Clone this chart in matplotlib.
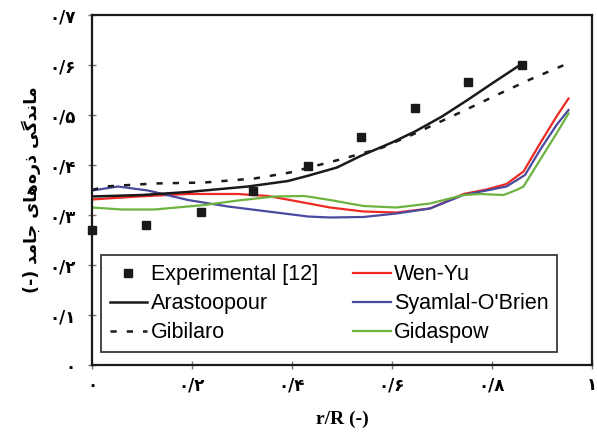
import matplotlib
matplotlib.use("Agg")
import matplotlib.pyplot as plt

# experimental points
r_exp = [0.0, 0.108, 0.217, 0.321, 0.431, 0.537, 0.646, 0.751, 0.86]
y_exp = [0.27, 0.281, 0.307, 0.349, 0.399, 0.457, 0.515, 0.567, 0.601]

r_ara = [0.0, 0.1, 0.192, 0.312, 0.392, 0.43, 0.49, 0.537, 0.6, 0.646, 0.7, 0.751, 0.8, 0.859]
y_ara = [0.337, 0.340, 0.346, 0.357, 0.368, 0.378, 0.395, 0.418, 0.445, 0.467, 0.497, 0.53, 0.563, 0.602]

r_gib = [0.0, 0.025, 0.125, 0.225, 0.325, 0.396, 0.496, 0.576, 0.646, 0.736, 0.816, 0.876, 0.949]
y_gib = [0.35, 0.357, 0.363, 0.365, 0.373, 0.385, 0.411, 0.433, 0.463, 0.505, 0.543, 0.571, 0.602]

r_wen = [0.0, 0.092, 0.192, 0.292, 0.352, 0.412, 0.476, 0.543, 0.609, 0.676, 0.743, 0.789, 0.829, 0.863, 0.896, 0.929, 0.953]
y_wen = [0.331, 0.337, 0.342, 0.342, 0.338, 0.327, 0.315, 0.307, 0.305, 0.313, 0.342, 0.351, 0.362, 0.387, 0.443, 0.497, 0.533]

r_sya = [0.0, 0.052, 0.112, 0.192, 0.272, 0.352, 0.432, 0.476, 0.543, 0.609, 0.676, 0.743, 0.789, 0.829, 0.866, 0.896, 0.929, 0.953]
y_sya = [0.349, 0.357, 0.349, 0.33, 0.317, 0.307, 0.297, 0.295, 0.296, 0.303, 0.313, 0.34, 0.349, 0.357, 0.38, 0.43, 0.48, 0.51]

r_gid = [0.0, 0.059, 0.125, 0.225, 0.292, 0.365, 0.425, 0.476, 0.543, 0.609, 0.676, 0.743, 0.776, 0.823, 0.849, 0.863, 0.896, 0.929, 0.953]
y_gid = [0.315, 0.311, 0.311, 0.32, 0.329, 0.337, 0.338, 0.33, 0.318, 0.315, 0.323, 0.34, 0.342, 0.34, 0.35, 0.357, 0.41, 0.463, 0.503]

xticks = [0, 0.2, 0.4, 0.6, 0.8, 1.0]
xtick_labels = ["۰", "۰/۲", "۰/۴", "۰/۶", "۰/۸", "۱"]
yticks = [0, 0.1, 0.2, 0.3, 0.4, 0.5, 0.6, 0.7]
ytick_labels = ["۰", "۰/۱", "۰/۲", "۰/۳", "۰/۴", "۰/۵", "۰/۶", "۰/۷"]

# visual (pre-shaped, left-to-right) form of "ماندگی ذره‌های جامد (-)"
ylabel = "(-) ﺪﻣﺎﺟ ﯼﺎﻫﻩﺭﺫ ﯽﮔﺪﻧﺎﻣ"

fig = plt.figure(figsize=(5.97, 4.45), dpi=100)
ax = fig.add_axes([92/597, 1-365/445, 500/597, 350/445])

ax.plot(r_wen, y_wen, color="#ee2a24", lw=1.6, label="Wen-Yu")
ax.plot(r_sya, y_sya, color="#4a4a9e", lw=1.6, label="Syamlal-O'Brien")
ax.plot(r_gid, y_gid, color="#6cb33f", lw=1.6, label="Gidaspow")
ax.plot(r_gib, y_gib, color="#1a1a1a", lw=1.8, ls=(0, (2.5, 4)), label="Gibilaro")
ax.plot(r_ara, y_ara, color="#1a1a1a", lw=1.8, label="Arastoopour")
ax.plot(r_exp, y_exp, ls="none", marker="s", ms=6, color="#1a1a1a",
        label="Experimental [12]", clip_on=False, zorder=5)

ax.set_xlim(0, 1)
ax.set_ylim(0, 0.7)
ax.set_xticks(xticks)
ax.set_xticklabels(xtick_labels, fontsize=12, fontweight="bold", family="DejaVu Sans")
ax.set_yticks(yticks)
ax.set_yticklabels(ytick_labels, fontsize=12, fontweight="bold", family="DejaVu Sans")
ax.tick_params(direction="inout", length=6, width=1, color="#777777")
ax.tick_params(axis="x", pad=5)
ax.tick_params(axis="y", pad=9)
for s in ax.spines.values():
    s.set_linewidth(1.6)
    s.set_color("#1a1a1a")

ax.set_xlabel("r/R (-)", family="Liberation Serif", fontweight="bold", fontsize=14, labelpad=12)
ax.set_ylabel(ylabel, family="DejaVu Sans", fontweight="bold", fontsize=12.5, labelpad=6)

h, l = ax.get_legend_handles_labels()
order = [5, 4, 3, 0, 1, 2]
leg = ax.legend([h[i] for i in order], [l[i] for i in order], ncol=2,
                loc="lower left", bbox_to_anchor=(0.018, 0.037),
                prop={"family": "Liberation Sans", "size": 15.5},
                frameon=True, fancybox=False, edgecolor="#1a1a1a",
                handlelength=1.75, handletextpad=0.15, labelspacing=0.38,
                borderpad=0.4, borderaxespad=0, columnspacing=1.65)
leg.get_frame().set_linewidth(1.4)

fig.savefig("out.png", dpi=100)
